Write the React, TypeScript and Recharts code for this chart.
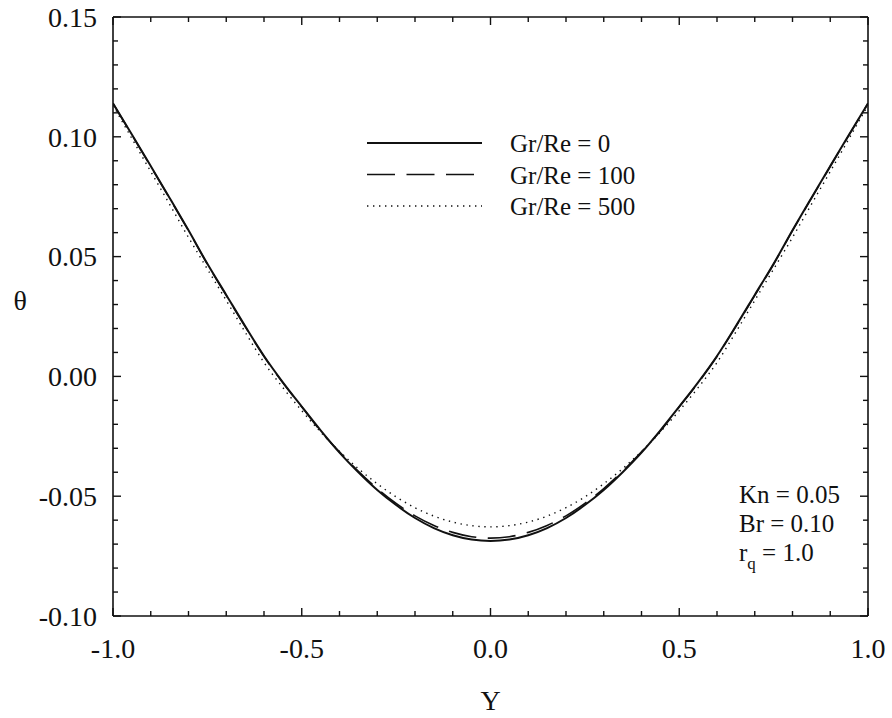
import React from "react";
import { LineChart, Line, XAxis, YAxis } from "recharts";

// transverse coordinate Y across the channel
const yPos = [
  -1.0, -0.95, -0.9, -0.85, -0.8, -0.75, -0.7, -0.65, -0.6, -0.55, -0.5,
  -0.45, -0.4, -0.35, -0.3, -0.25, -0.2, -0.15, -0.1, -0.05, 0.0,
  0.05, 0.1, 0.15, 0.2, 0.25, 0.3, 0.35, 0.4, 0.45, 0.5,
  0.55, 0.6, 0.65, 0.7, 0.75, 0.8, 0.85, 0.9, 0.95, 1.0,
];

// temperature profiles theta(Y)
const thetaGr0 = [
  0.114, 0.101, 0.0878, 0.0745, 0.061, 0.047, 0.034, 0.021, 0.0085, -0.0025, -0.0126,
  -0.0225, -0.0318, -0.04, -0.0474, -0.0537, -0.0591, -0.0633, -0.0663, -0.0681, -0.0687,
  -0.0681, -0.0663, -0.0633, -0.0591, -0.0537, -0.0474, -0.04, -0.0318, -0.0225, -0.0126,
  -0.0025, 0.0085, 0.021, 0.034, 0.047, 0.061, 0.0745, 0.0878, 0.101, 0.114,
];
const thetaGr100 = [
  0.1139, 0.1008, 0.0876, 0.0743, 0.0608, 0.0468, 0.0338, 0.0208, 0.0083, -0.0027, -0.0127,
  -0.0228, -0.0315, -0.0396, -0.0468, -0.053, -0.0582, -0.0622, -0.0651, -0.0669, -0.0675,
  -0.0669, -0.0651, -0.0622, -0.0582, -0.053, -0.0468, -0.0396, -0.0315, -0.0228, -0.0127,
  -0.0027, 0.0083, 0.0208, 0.0338, 0.0468, 0.0608, 0.0743, 0.0876, 0.1008, 0.1139,
];
const thetaGr500 = [
  0.1132, 0.0993, 0.0855, 0.0718, 0.058, 0.0448, 0.0317, 0.0185, 0.0058, -0.0047, -0.0143,
  -0.0232, -0.0313, -0.0385, -0.0448, -0.0503, -0.0548, -0.0583, -0.0608, -0.0623, -0.0628,
  -0.0623, -0.0608, -0.0583, -0.0548, -0.0503, -0.0448, -0.0385, -0.0313, -0.0232, -0.0143,
  -0.0047, 0.0058, 0.0185, 0.0317, 0.0448, 0.058, 0.0718, 0.0855, 0.0993, 0.1132,
];

const xTicks = [
  -1.0, -0.9, -0.8, -0.7, -0.6, -0.5, -0.4, -0.3, -0.2, -0.1, 0.0,
  0.1, 0.2, 0.3, 0.4, 0.5, 0.6, 0.7, 0.8, 0.9, 1.0,
];
const yTicks = [
  -0.1, -0.09, -0.08, -0.07, -0.06, -0.05, -0.04, -0.03, -0.02, -0.01, 0.0,
  0.01, 0.02, 0.03, 0.04, 0.05, 0.06, 0.07, 0.08, 0.09, 0.1,
  0.11, 0.12, 0.13, 0.14, 0.15,
];

const seriesNames = ["Gr/Re = 0", "Gr/Re = 100", "Gr/Re = 500"];
const paramLines = ["Kn = 0.05", "Br = 0.10"];

const series = [
  { key: "g0", name: seriesNames[0], dash: undefined, width: 2 },
  { key: "g100", name: seriesNames[1], dash: "28 11.5", width: 1.6 },
  { key: "g500", name: seriesNames[2], dash: "1.4 4.6", width: 1.4 },
];

const data = yPos.map((Y, i) => ({
  Y,
  g0: thetaGr0[i],
  g100: thetaGr100[i],
  g500: thetaGr500[i],
}));

const FONT = "'Liberation Serif', 'Times New Roman', serif";
const INK = "#111";
const W = 892;
const H = 718;
// top/right axes are 1px deep, so the plot box still spans 113..868 x 17..616
const M = { top: 16, right: 23, bottom: 42, left: 33 };

const isMajor = (v: number, step: number) =>
  Math.abs(v / step - Math.round(v / step)) < 1e-6;

// inward ticks; only the left and bottom axes carry numbers
const makeTick = (side: "left" | "right" | "top" | "bottom") => (props: any) => {
  const { x, y, payload } = props;
  const v = payload.value as number;
  const major = side === "left" || side === "right" ? isMajor(v, 0.05) : isMajor(v, 0.5);
  const len = major ? 8 : 5;
  let line;
  if (side === "left") line = <line x1={x} y1={y} x2={x + len} y2={y} />;
  else if (side === "right") line = <line x1={x} y1={y} x2={x - len} y2={y} />;
  else if (side === "top") line = <line x1={x} y1={y} x2={x} y2={y + len} />;
  else line = <line x1={x} y1={y} x2={x} y2={y - len} />;
  return (
    <g stroke={INK} strokeWidth={1.4}>
      {line}
      {major && side === "left" && (
        <text x={x - 16} y={y} dy="0.35em" textAnchor="end" fontSize={28} fill={INK} stroke="none" fontFamily={FONT}>
          {v.toFixed(2)}
        </text>
      )}
      {major && side === "bottom" && (
        <text x={x} y={y + 42} textAnchor="middle" fontSize={28} fill={INK} stroke="none" fontFamily={FONT}>
          {v.toFixed(1)}
        </text>
      )}
    </g>
  );
};

const axisLine = { stroke: INK, strokeWidth: 1.6 };

export default function App() {
  return (
    <div style={{ position: "absolute", left: 0, top: 0, width: W, height: H, background: "#fff", fontFamily: FONT }}>
      <LineChart width={W} height={H} data={data} margin={M}>
        <XAxis
          xAxisId="b"
          dataKey="Y"
          type="number"
          domain={[-1, 1]}
          ticks={xTicks}
          interval={0}
          height={60}
          tickSize={0}
          tickMargin={0}
          tickLine={false}
          axisLine={axisLine}
          tick={makeTick("bottom")}
          label={{ value: "Y", position: "bottom", offset: 14, fontSize: 28, fill: INK, fontFamily: FONT }}
          allowDataOverflow
        />
        <XAxis
          xAxisId="t"
          orientation="top"
          dataKey="Y"
          type="number"
          domain={[-1, 1]}
          ticks={xTicks}
          interval={0}
          height={1}
          tickSize={0}
          tickMargin={0}
          tickLine={false}
          axisLine={axisLine}
          tick={makeTick("top")}
          allowDataOverflow
        />
        <YAxis
          yAxisId="l"
          type="number"
          domain={[-0.1, 0.15]}
          ticks={yTicks}
          interval={0}
          width={80}
          tickSize={0}
          tickMargin={0}
          tickLine={false}
          axisLine={axisLine}
          tick={makeTick("left")}
          label={{ value: "θ", position: "left", offset: 6, dy: -16, fontSize: 28, fill: INK, fontFamily: FONT }}
          allowDataOverflow
        />
        <YAxis
          yAxisId="r"
          orientation="right"
          type="number"
          domain={[-0.1, 0.15]}
          ticks={yTicks}
          interval={0}
          width={1}
          tickSize={0}
          tickMargin={0}
          tickLine={false}
          axisLine={axisLine}
          tick={makeTick("right")}
          allowDataOverflow
        />
        {series.map((s) => (
          <Line
            key={s.key}
            xAxisId="b"
            yAxisId="l"
            dataKey={s.key}
            name={s.name}
            type="monotone"
            stroke={INK}
            strokeWidth={s.width}
            strokeDasharray={s.dash}
            dot={false}
            isAnimationActive={false}
          />
        ))}
        {/* unstroked copy so the top and right frame axes get drawn */}
        <Line
          xAxisId="t"
          yAxisId="r"
          dataKey="g0"
          type="monotone"
          stroke="none"
          dot={false}
          legendType="none"
          isAnimationActive={false}
        />
      </LineChart>
      <svg
        width={W}
        height={H}
        style={{ position: "absolute", left: 0, top: 0, pointerEvents: "none" }}
        fontFamily={FONT}
        fill={INK}
      >
        {series.map((s, i) => (
          <g key={s.key}>
            <line
              x1={367}
              x2={482}
              y1={143 + i * 31.5}
              y2={143 + i * 31.5}
              stroke={INK}
              strokeWidth={s.width}
              strokeDasharray={s.dash}
            />
            <text x={510} y={152 + i * 31.5} fontSize={25}>
              {s.name}
            </text>
          </g>
        ))}
        {paramLines.map((t, i) => (
          <text key={t} x={739} y={503 + i * 29} fontSize={25}>
            {t}
          </text>
        ))}
        <text x={739} y={561} fontSize={25}>
          r
          <tspan fontSize={17} dy={8}>q</tspan>
          <tspan dy={-8}> = 1.0</tspan>
        </text>
      </svg>
    </div>
  );
}
